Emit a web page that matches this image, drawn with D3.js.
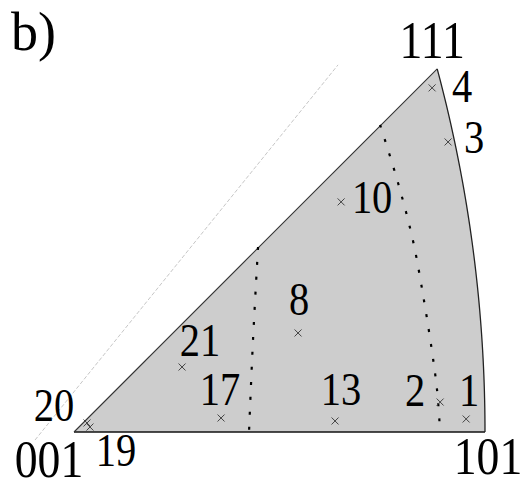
<!DOCTYPE html>
<html>
<head>
<meta charset="utf-8">
<script src="https://cdn.jsdelivr.net/npm/d3@7"></script>
<style>
  html, body { margin: 0; padding: 0; background: #fff; }
  svg text { font-family: "Liberation Serif", "Times New Roman", serif; fill: #000; }
</style>
</head>
<body>
<svg id="ipf" width="524" height="483"></svg>
<script>
// Stereographic coordinates (u, v) of the measured orientations
const pointIds = ["1", "2", "3", "4", "8", "10", "13", "17", "19", "20", "21"];
const pointU   = [0.3952, 0.3690, 0.3770, 0.3609, 0.2258, 0.2692, 0.2631, 0.1482, 0.0161, 0.0131, 0.1089];
const pointV   = [0.0131, 0.0302, 0.2923, 0.3468, 0.0998, 0.2319, 0.0111, 0.0141, 0.0050, 0.0091, 0.0655];

// Corner pole labels of the standard triangle
const poleLabels = ["001", "101", "111"];

// Two dotted boundary curves across the triangle (u, v)
const boundaryA = [[0.1855, 0.1865], [0.1804, 0.0927], [0.1764, 0.0]];
const boundaryB = [[0.3085, 0.3095], [0.3266, 0.2510], [0.3417, 0.1925], [0.3528, 0.1321],
                   [0.3609, 0.0806], [0.3659, 0.0423], [0.3690, 0.0]];

// Faint guide line beside the [001]-[111] edge (u, v)
const guideLine = [[-0.0393, -0.0081], [0.2661, 0.3700]];

// Label placement relative to each point (pixels)
const labelOffset = {
  "1": [3, -13], "2": [-25, 4], "3": [26, 11], "4": [30, 14], "8": [1, -18],
  "10": [31, 11], "13": [6, -16], "17": [-1, -13], "19": [26, 39], "20": [-33, -2], "21": [18, -11]
};

const svg = d3.select("#ipf");
const t = Math.tan(Math.PI / 8);           // stereographic position of [101]
const x = d3.scaleLinear().domain([0, t]).range([74, 485]);
const y = d3.scaleLinear().domain([0, t]).range([432, 21]);

// Standard triangle: straight edges from [001], great-circle arc [101]-[111]
const arc = d3.range(0, 1.0001, 0.02).map(k => {
  const n = Math.sqrt(2 + k * k);
  return [1 / (n + 1), k / (n + 1)];
});
const outline = [[0, 0]].concat(arc);
const line = d3.line().x(d => x(d[0])).y(d => y(d[1]));

svg.append("path")
  .attr("d", line(guideLine))
  .attr("fill", "none")
  .attr("stroke", "#b8b8b8")
  .attr("stroke-width", 0.8)
  .attr("stroke-dasharray", "4 2");

svg.append("path")
  .attr("d", line(outline) + "Z")
  .attr("fill", "#cdcdcd")
  .attr("stroke", "none");

svg.append("path")
  .attr("d", line([[0, 0], [t, 0]]))
  .attr("stroke", "#111").attr("stroke-width", 1.5).attr("fill", "none");
svg.append("path")
  .attr("d", line([[0, 0], arc[arc.length - 1]]))
  .attr("stroke", "#333").attr("stroke-width", 1.1).attr("fill", "none");
svg.append("path")
  .attr("d", line(arc))
  .attr("stroke", "#222").attr("stroke-width", 1.3).attr("fill", "none");

// Dotted boundaries
const curve = d3.line().x(d => x(d[0])).y(d => y(d[1])).curve(d3.curveCatmullRom);
[boundaryA, boundaryB].forEach(b => {
  svg.append("path")
    .attr("d", curve(b))
    .attr("fill", "none")
    .attr("stroke", "#000")
    .attr("stroke-width", 2.2)
    .attr("stroke-dasharray", "3 12");
});

// Orientation markers
const pts = pointIds.map((id, i) => ({ id, u: pointU[i], v: pointV[i] }));
const r = 3.5;
const g = svg.append("g").selectAll("g").data(pts).join("g")
  .attr("transform", d => `translate(${x(d.u)},${y(d.v)})`);
g.append("path")
  .attr("d", `M${-r},${-r}L${r},${r}M${-r},${r}L${r},${-r}`)
  .attr("stroke", "#444")
  .attr("stroke-width", 1)
  .attr("fill", "none");

// Point numbers
svg.append("g").selectAll("text").data(pts).join("text")
  .attr("transform", d => `translate(${x(d.u) + labelOffset[d.id][0]},${y(d.v) + labelOffset[d.id][1]}) scale(0.88,1)`)
  .attr("text-anchor", "middle")
  .attr("font-size", 46)
  .text(d => d.id);

// Pole labels
const poleAt = { "001": [0, 0], "101": [t, 0], "111": arc[arc.length - 1] };
const poleOffset = { "001": [-25, 45], "101": [3, 42], "111": [-5, -11] };
svg.append("g").selectAll("text").data(poleLabels).join("text")
  .attr("transform", p => `translate(${x(poleAt[p][0]) + poleOffset[p][0]},${y(poleAt[p][1]) + poleOffset[p][1]}) scale(0.88,1)`)
  .attr("text-anchor", "middle")
  .attr("font-size", 52)
  .text(p => p);

svg.append("text")
  .attr("x", 11).attr("y", 50)
  .attr("font-size", 54)
  .text("b)");
</script>
</body>
</html>
